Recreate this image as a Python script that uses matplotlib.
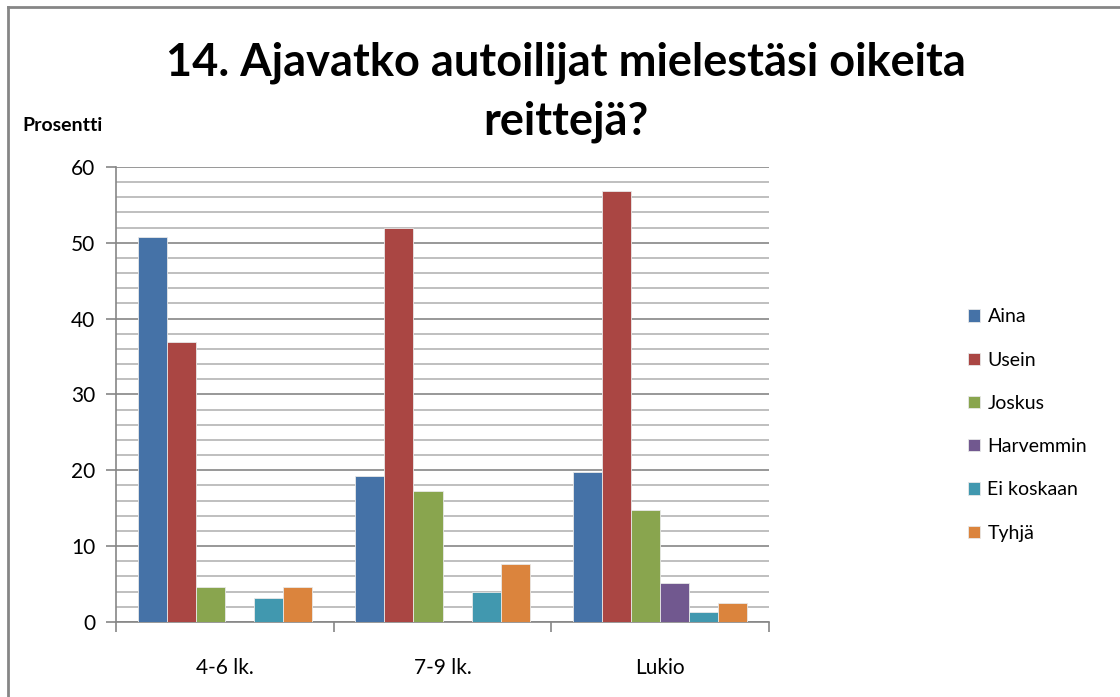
import matplotlib.pyplot as plt
import numpy as np
from matplotlib.lines import Line2D

categories = ["4-6 lk.", "7-9 lk.", "Lukio"]
series = ["Aina", "Usein", "Joskus", "Harvemmin", "Ei koskaan", "Tyhjä"]
aina = [50.8, 19.2, 19.8]
usein = [36.9, 51.9, 56.8]
joskus = [4.6, 17.3, 14.8]
harvemmin = [0.0, 0.0, 5.1]
ei_koskaan = [3.1, 4.0, 1.3]
tyhja = [4.6, 7.7, 2.5]
values = [aina, usein, joskus, harvemmin, ei_koskaan, tyhja]
colors = ["#4572A7", "#AA4643", "#89A54E", "#71588F", "#4198AF", "#DB843D"]

plt.rcParams["font.family"] = ["Lato", "DejaVu Sans"]

fig = plt.figure(figsize=(11.2, 6.97), dpi=100)
ax = fig.add_axes([0.1036, 0.1076, 0.583, 0.653])

x = np.arange(len(categories))
width = 0.8 / len(series)
for i, (name, vals, c) in enumerate(zip(series, values, colors)):
    pos = x - 0.4 + width * (i + 0.5)
    ax.bar(pos, vals, width, color=c, edgecolor="#e8e8e8", linewidth=0.6,
           label=name, zorder=3)

ax.set_xlim(-0.5, 2.5)
ax.set_ylim(0, 60)
ax.set_yticks(np.arange(0, 61, 10))
ax.set_yticks(np.arange(0, 61, 2), minor=True)
ax.grid(axis="y", which="major", color="#868686", linewidth=1.2, zorder=0)
ax.grid(axis="y", which="minor", color="#b4b4b4", linewidth=1.2, zorder=0)
ax.set_xticks(x)
ax.set_xticklabels(categories)
ax.set_xticks([-0.5, 0.5, 1.5, 2.5], minor=True)
ax.tick_params(axis="x", which="major", length=0, labelsize=15, pad=26)
ax.tick_params(axis="x", which="minor", length=7, color="#868686", width=1.2)
ax.tick_params(axis="y", which="major", length=7, color="#868686", width=1.2,
               labelsize=15, pad=8)
ax.tick_params(axis="y", which="minor", length=0)
for s in ["top", "right"]:
    ax.spines[s].set_visible(False)
for s in ["left", "bottom"]:
    ax.spines[s].set_color("#868686")
    ax.spines[s].set_linewidth(1.2)

fig.text(0.505, 0.868, "14. Ajavatko autoilijat mielestäsi oikeita\nreittejä?",
         ha="center", va="center", fontsize=32.5, fontweight="bold",
         linespacing=1.5)
fig.text(0.02, 0.82, "Prosentti", fontsize=14, fontweight="bold",
         ha="left", va="center")

ax.legend(loc="center left", bbox_to_anchor=(1.278, 0.433), frameon=False,
          fontsize=14, handlelength=0.6, handleheight=0.6, handletextpad=0.4,
          labelspacing=1.35)

# chart border (left and top edges visible)
fig.add_artist(Line2D([0.0072, 0.0072], [0, 0.99], color="#868686",
                      linewidth=2, transform=fig.transFigure))
fig.add_artist(Line2D([0.0072, 1.0], [0.99, 0.99], color="#868686",
                      linewidth=2, transform=fig.transFigure))

fig.savefig("out.png", dpi=100)
